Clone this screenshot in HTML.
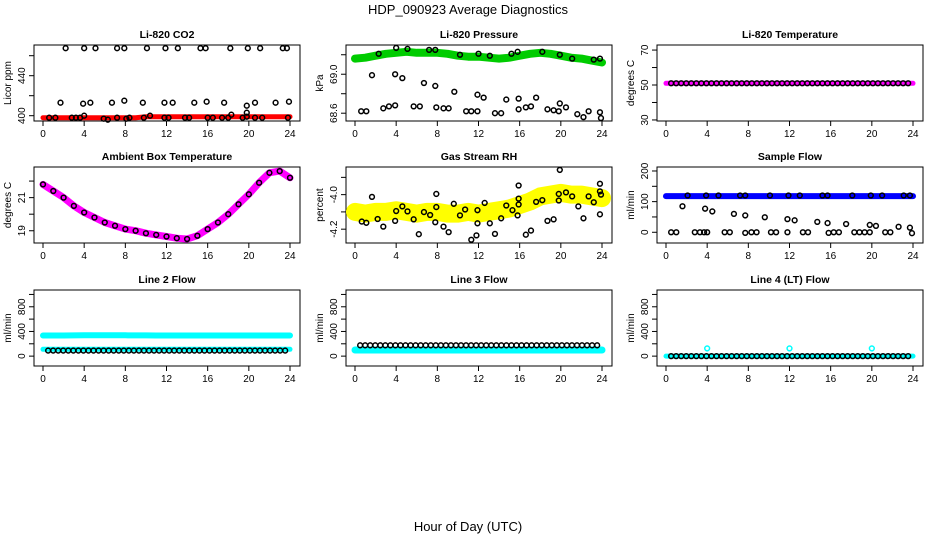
<!DOCTYPE html>
<html><head><meta charset="utf-8"><style>
body{margin:0;background:#fff}
svg{display:block;font-family:"Liberation Sans",sans-serif}
</style></head><body>
<svg id="c" width="936" height="540" viewBox="0 0 936 540">
<rect width="936" height="540" fill="#fff"/>
<text x="468" y="14" text-anchor="middle" font-size="13">HDP_090923  Average Diagnostics</text>
<text x="468" y="531" text-anchor="middle" font-size="13">Hour of Day (UTC)</text>
</svg>
<script>
// ---- data ----
const hoursHourly=[0,1,2,3,4,5,6,7,8,9,10,11,12,13,14,15,16,17,18,19,20,21,22,23,24];
const xTicks=[0,4,8,12,16,20,24];
const co2Band=[398,398,398,398,398,398,398,398,398,398,399,399,399,399,399,399,399,399,399,399,399,399,399,399,399];
const co2BlackH=[2.2,4.0,5.1,7.2,7.9,10.1,11.9,13.1,15.3,15.8,18.2,19.9,21.1,23.3,23.7,1.7,3.9,4.6,6.7,7.9,9.7,11.8,12.6,14.7,15.9,17.6,19.8,20.6,22.6,23.9,0.6,1.2,2.8,3.2,3.6,4.0,5.9,6.3,7.2,8.1,8.4,9.8,10.4,11.8,12.2,13.8,14.2,16.0,16.5,17.4,18.0,19.4,19.8,20.6,21.3,23.8,18.3,19.8];
const co2BlackV=[467.5,467.5,467.5,467.5,467.5,467.5,467.5,467.5,467.5,467.5,467.5,467.5,467.5,467.5,467.5,413,412,413,413,415,413,413,413,413,414,413,410,413,413,414,398,398,398,398,398,400,397,396,398,397,398,398,400,398,398,398,398,398,398,398,398,398,399,398,398,398,401,403];
const presBand=[69.16,69.17,69.19,69.21,69.22,69.23,69.22,69.22,69.22,69.21,69.19,69.18,69.18,69.17,69.16,69.17,69.19,69.21,69.22,69.21,69.19,69.17,69.16,69.14,69.12];
const presBlackH=[2.3,4.0,5.1,7.2,7.8,10.2,12.0,13.1,15.2,15.8,18.2,19.9,21.1,23.2,23.8,1.65,3.9,4.6,6.7,7.8,9.65,11.9,12.5,14.7,15.9,17.6,19.9,20.5,0.6,1.1,2.75,3.3,3.9,5.7,6.3,7.9,8.6,9.1,10.8,11.3,11.9,13.6,14.2,15.9,16.6,17.1,18.7,19.3,19.8,21.6,22.2,22.7,23.8,23.9];
const presBlackV=[69.21,69.27,69.26,69.25,69.25,69.20,69.21,69.19,69.21,69.23,69.23,69.20,69.16,69.15,69.16,68.99,69.00,68.96,68.91,68.88,68.82,68.79,68.76,68.74,68.75,68.76,68.70,68.66,68.62,68.62,68.65,68.67,68.68,68.67,68.67,68.66,68.65,68.65,68.62,68.62,68.62,68.60,68.60,68.64,68.66,68.67,68.64,68.63,68.62,68.59,68.56,68.62,68.61,68.55];
const tempBand=[51,51,51,51,51,51,51,51,51,51,51,51,51,51,51,51,51,51,51,51,51,51,51,51,51];
const tempBlack=[51,51,51,51,51,51,51,51,51,51,51,51,51,51,51,51,51,51,51,51,51,51,51,51,51,51,51,51,51,51,51,51,51,51,51,51,51,51,51,51,51,51,51,51,51,51,51,51];
const ambBand=[21.8,21.4,21.0,20.5,20.1,19.8,19.5,19.3,19.1,19.0,18.85,18.75,18.65,18.55,18.5,18.7,19.1,19.5,20.0,20.6,21.2,21.9,22.5,22.6,22.2];
const rhBand=[-4.10,-4.11,-4.10,-4.10,-4.09,-4.10,-4.11,-4.10,-4.10,-4.11,-4.11,-4.10,-4.11,-4.10,-4.09,-4.08,-4.06,-4.04,-4.01,-4.00,-3.99,-4.00,-4.00,-4.01,-4.02];
const rhBlackH=[0.66,1.1,1.65,2.2,2.75,3.9,4.0,4.6,5.1,5.7,6.2,6.7,7.3,7.9,7.9,7.8,8.6,9.1,9.6,10.2,10.7,11.3,11.8,11.9,11.9,12.6,13.1,13.6,14.2,14.7,15.3,15.8,15.9,15.9,15.9,16.6,17.1,17.6,18.2,18.7,19.3,19.8,19.9,19.8,20.5,21.1,21.7,22.2,22.7,23.2,23.8,23.8,23.8,23.9];
const rhBlackV=[-4.156,-4.163,-4.013,-4.141,-4.185,-4.152,-4.095,-4.068,-4.097,-4.143,-4.229,-4.101,-4.118,-4.072,-3.996,-4.16,-4.185,-4.217,-4.053,-4.12,-4.086,-4.261,-4.236,-4.166,-4.09,-4.048,-4.166,-4.227,-4.137,-4.063,-4.09,-4.12,-4.057,-3.947,-4.023,-4.232,-4.208,-4.042,-4.032,-4.152,-4.143,-3.996,-3.857,-4.034,-3.987,-4.01,-4.068,-4.137,-4.01,-4.044,-4.114,-3.981,-3.937,-4.0];
const flowBand=[118,118,118,118,118,118,118,118,118,118,118,118,118,118,118,118,118,118,118,118,118,118,118,118,118];
const flowBlackH=[2.1,3.9,5.1,7.2,7.7,10.1,11.9,13.0,15.2,15.7,18.1,19.9,21.0,23.1,23.7,1.6,3.8,4.5,6.6,7.7,9.6,11.8,12.5,14.7,15.7,17.5,19.8,20.4,22.6,23.7,0.5,1.0,2.8,3.3,3.7,4.0,5.7,6.2,7.7,8.3,8.8,10.2,10.7,11.8,13.3,13.8,15.8,16.3,16.8,18.3,18.8,19.3,19.8,21.3,21.8,23.9];
const flowBlackV=[120,120,120,120,120,120,120,120,120,120,120,120,120,120,120,85,77,68,60,55,49,43,39,34,30,27,24,21,18,15,0,0,0,0,0,0,0,0,-2,0,0,0,0,0,0,0,-2,0,0,0,0,0,0,0,0,-3];
const line2Upper=[335,335,335,336,337,337,337,337,337,336,336,335,335,335,335,335,335,335,335,335,335,335,335,335,335];
const line2Lower=[110,110,110,110,110,110,110,110,110,110,110,110,110,110,110,110,110,110,110,110,110,110,110,110,110];
const line2Black=[90,90,90,90,90,90,90,90,90,90,90,90,90,90,90,90,90,90,90,90,90,90,90,90,90,90,90,90,90,90,90,90,90,90,90,90,90,90,90,90,90,90,90,90,90,90,90,90];
const line3Band=[100,100,100,100,100,100,100,100,100,100,100,100,100,100,100,100,100,100,100,100,100,100,100,100,100];
const line3Black=[175,175,175,175,175,175,175,175,175,175,175,175,175,175,175,175,175,175,175,175,175,175,175,175,175,175,175,175,175,175,175,175,175,175,175,175,175,175,175,175,175,175,175,175,175,175,175,175];
const line4Band=[0,0,0,0,0,0,0,0,0,0,0,0,0,0,0,0,0,0,0,0,0,0,0,0,0];
const line4Black=[0,0,0,0,0,0,0,0,0,0,0,0,0,0,0,0,0,0,0,0,0,0,0,0,0,0,0,0,0,0,0,0,0,0,0,0,0,0,0,0,0,0,0,0,0,0,0,0];
const line4OutH=[4,12,20];
const line4OutV=[125,125,125];

const NS="http://www.w3.org/2000/svg";
const svg=document.getElementById('c');
function mk(tag,attrs,parent){const e=document.createElementNS(NS,tag);for(const k in attrs)e.setAttribute(k,attrs[k]);(parent||svg).appendChild(e);return e;}

function panel(name,title,ylab,left,top,ymin,ymax,ticks,labels){
  const g=mk('g',{});
  
  
  const W=266,H=76;
  const sx=h=>left+9+h*247/24;
  const sy=v=>top+H-(v-ymin)/(ymax-ymin)*H;
  const t=mk('text',{x:left+W/2,y:top-7,'text-anchor':'middle','font-size':10.5,'font-weight':'bold'},g);t.textContent=title;
  
  
  const ax=mk('g',{stroke:'#000','stroke-width':1,fill:'none'},g);
  
  
  mk('rect',{x:left,y:top,width:W,height:H},ax);
  xTicks.forEach(h=>{mk('line',{x1:sx(h),x2:sx(h),y1:top+H,y2:top+H+5},ax);
    const l=mk('text',{x:sx(h),y:top+H+16,'text-anchor':'middle','font-size':10,fill:'#000',stroke:'none'},g);l.textContent=h;});
  ticks.forEach(v=>{mk('line',{x1:left-5,x2:left,y1:sy(v),y2:sy(v)},ax);});
  labels.forEach(v=>{const y=sy(v);const l=mk('text',{x:left-9,y:y,'text-anchor':'middle','font-size':10,transform:`rotate(-90 ${left-9} ${y})`},g);l.textContent=v;});
  const yl=mk('text',{x:left-23,y:top+H/2,'text-anchor':'middle','font-size':10,transform:`rotate(-90 ${left-23} ${top+H/2})`},g);yl.textContent=ylab;
  
  
  return {g,sx,sy};
}
function band(p,hs,vs,color,w,name){
  const d=hs.map((h,i)=>(i?'L':'M')+p.sx(h).toFixed(1)+' '+p.sy(vs[i]).toFixed(1)).join(' ');
  const e=mk('path',{d:d,stroke:color,'stroke-width':w,fill:'none','stroke-linecap':'round','stroke-linejoin':'round'},p.g);
  
  
}
function pts(p,hs,vs,color,name){
  const gg=mk('g',{fill:'none',stroke:color,'stroke-width':1.5},p.g);
  
  
  hs.forEach((h,i)=>mk('circle',{cx:p.sx(h),cy:p.sy(vs[i]),r:2.4},gg));
}
const halfH=tempBlack.map((v,i)=>0.5+i*0.49);

let p;
p=panel('co2','Li-820 CO2','Licor ppm',34,45,394.7,470.7,[400,420,440,460],[400,440]);
band(p,hoursHourly,co2Band,'#ff0000',5,'co2-series');
pts(p,co2BlackH,co2BlackV,'#000','co2-averages');

p=panel('pressure','Li-820 Pressure','kPa',346,45,68.52,69.30,[68.6,68.8,69.0,69.2],['68.6','69.0']);
band(p,hoursHourly,presBand,'#00cc00',8,'pressure-series');
pts(p,presBlackH,presBlackV,'#000','pressure-averages');

p=panel('temperature','Li-820 Temperature','degrees C',657,45,29.4,72.9,[30,40,50,60,70],[30,50,70]);
band(p,hoursHourly,tempBand,'#ff00ff',5,'temperature-series');
pts(p,halfH,tempBlack,'#000','temperature-averages');

p=panel('ambient','Ambient Box Temperature','degrees C',34,167,18.26,22.85,[19,20,21,22],[19,21]);
band(p,hoursHourly,ambBand,'#ff00ff',7,'ambient-series');
pts(p,hoursHourly,ambBand,'#000','ambient-averages');

p=panel('rh','Gas Stream RH','percent',346,167,-4.28,-3.84,[-4.2,-4.1,-4.0,-3.9],['-4.2','-4.0']);
band(p,hoursHourly,rhBand,'#ffff00',18,'rh-series');
pts(p,rhBlackH,rhBlackV,'#000','rh-averages');

p=panel('sample-flow','Sample Flow','ml/min',657,167,-35,213,[0,50,100,150,200],[0,100,200]);
band(p,hoursHourly,flowBand,'#0000ff',6,'sample-flow-series');
pts(p,flowBlackH,flowBlackV,'#000','sample-flow-averages');

const flowTicks=[0,200,400,600,800,1000];
p=panel('line2','Line 2 Flow','ml/min',34,290,-160,1072,flowTicks,[0,400,800]);
band(p,hoursHourly,line2Upper,'#00ffff',6,'line2-upper-series');
band(p,hoursHourly,line2Lower,'#00ffff',5,'line2-lower-series');
pts(p,halfH,line2Black,'#000','line2-averages');

p=panel('line3','Line 3 Flow','ml/min',346,290,-160,1072,flowTicks,[0,400,800]);
band(p,hoursHourly,line3Band,'#00ffff',7,'line3-series');
pts(p,halfH,line3Black,'#000','line3-averages');

p=panel('line4','Line 4 (LT) Flow','ml/min',657,290,-160,1072,flowTicks,[0,400,800]);
band(p,hoursHourly,line4Band,'#00ffff',5,'line4-series');
pts(p,halfH,line4Black,'#000','line4-averages');
pts(p,line4OutH,line4OutV,'#00ffff','line4-outliers');
</script>
</body></html>
